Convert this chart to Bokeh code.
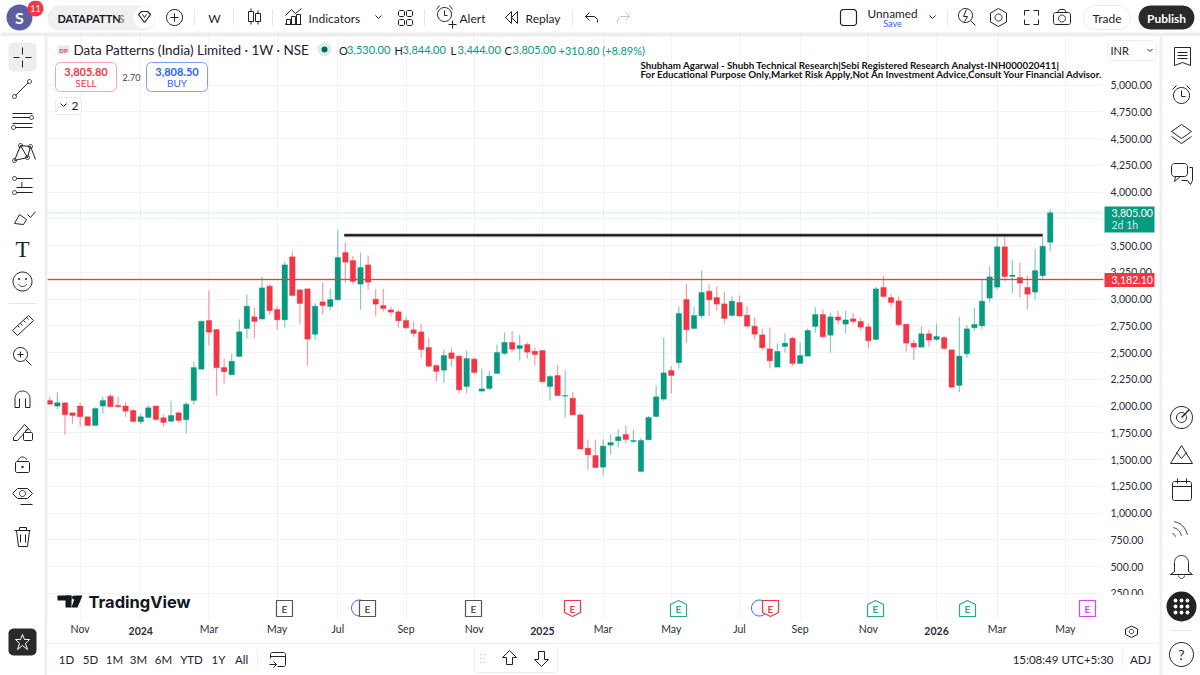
import numpy as np
from bokeh.core.properties import value
from bokeh.embed import file_html
from bokeh.models import (ColumnDataSource, FixedTicker, Grid, LinearAxis,
                          NumeralTickFormatter, Range1d)
from bokeh.plotting import figure
from bokeh.resources import INLINE

# weekly candles
opens = [2052, 1999, 2030, 1936, 1999, 1899, 1818, 1999, 2092, 2005, 1999, 1958, 1852, 1893, 1999, 1890, 1858, 1936, 1871, 2052,
         2344, 2799, 2715, 2360, 2291, 2463, 2724, 2833, 2812, 3120, 2902, 2805, 3394, 3086, 3095, 2671, 2974, 2930, 2992, 3435,
         3360, 3139, 3319, 2998, 2939, 2899, 2880, 2799, 2712, 2693, 2547, 2379, 2335, 2497, 2466, 2182, 2438, 2139, 2164, 2304,
         2491, 2594, 2537, 2575, 2512, 2519, 2182, 2285, 2092, 2073, 1917, 1606, 1537, 1428, 1634, 1675, 1734, 1668, 1388, 1684,
         1902, 2064, 2332, 2404, 2995, 2724, 2843, 3073, 3014, 2955, 2846, 2967, 2849, 2746, 2665, 2534, 2363, 2556, 2634, 2397,
         2466, 2743, 2855, 2662, 2833, 2765, 2815, 2790, 2740, 2622, 3108, 3014, 2983, 2765, 2587, 2550, 2675, 2622, 2640, 2525,
         2192, 2488, 2731, 2749, 3008, 3111, 3488, 3210, 3201, 3108, 3064, 3217, 3530]
highs = [2089, 2126, 2030, 1936, 2030, 1899, 1986, 2086, 2111, 2089, 2036, 1974, 1927, 2005, 2005, 1918, 2048, 1943, 2036, 2413,
         2793, 3080, 2715, 2441, 2488, 2809, 3039, 2918, 3207, 3136, 2933, 3347, 3444, 3086, 3095, 2961, 3154, 3095, 3650, 3525,
         3403, 3435, 3407, 3089, 3095, 2927, 2902, 2833, 2787, 2768, 2637, 2388, 2525, 2547, 2475, 2516, 2453, 2347, 2329, 2572,
         2687, 2699, 2665, 2594, 2544, 2519, 2291, 2385, 2332, 2132, 1933, 1687, 1687, 1687, 1734, 1780, 1818, 1777, 1703, 1908,
         2192, 2640, 2372, 2933, 3139, 2930, 3266, 3139, 3117, 3067, 3023, 3033, 2933, 2827, 2724, 2734, 2584, 2678, 2647, 2594,
         2724, 2924, 2899, 2871, 2890, 2890, 2865, 2827, 2771, 3114, 3217, 3048, 3020, 2765, 2618, 2746, 2715, 2771, 2656, 2525,
         2834, 2756, 2921, 3179, 3307, 3609, 3600, 3369, 3341, 3220, 3469, 3587, 3844]
lows = [2014, 1971, 1731, 1834, 1809, 1818, 1818, 1927, 1992, 1983, 1899, 1855, 1830, 1893, 1865, 1806, 1849, 1843, 1746, 2014,
        2344, 2566, 2098, 2210, 2291, 2463, 2631, 2634, 2812, 2855, 2712, 2734, 3024, 2762, 2379, 2622, 2855, 2893, 2986, 3151,
        3135, 2899, 3089, 2836, 2883, 2836, 2734, 2718, 2646, 2453, 2360, 2232, 2217, 2369, 2120, 2120, 2298, 2139, 2148, 2304,
        2478, 2503, 2422, 2447, 2379, 2226, 2051, 2095, 1890, 1914, 1597, 1404, 1416, 1351, 1550, 1612, 1653, 1656, 1388, 1684,
        1896, 2045, 2117, 2351, 2590, 2724, 2821, 2840, 2893, 2771, 2837, 2840, 2734, 2625, 2522, 2351, 2363, 2500, 2372, 2397,
        2466, 2684, 2634, 2500, 2762, 2681, 2762, 2703, 2544, 2612, 3011, 2924, 2743, 2510, 2432, 2550, 2556, 2609, 2522, 2164,
        2129, 2450, 2703, 2718, 2967, 3083, 3167, 3055, 3011, 2902, 2998, 3185, 3444]
closes = [2017, 2030, 1918, 1911, 1899, 1818, 1977, 2052, 1992, 1992, 1952, 1855, 1899, 1983, 1874, 1846, 1911, 1865, 2017, 2360,
          2793, 2690, 2357, 2320, 2419, 2693, 2933, 2790, 3104, 2890, 2805, 3319, 3033, 2958, 2625, 2933, 2939, 2995, 3388, 3344,
          3164, 3294, 3157, 2952, 2911, 2877, 2796, 2731, 2678, 2528, 2372, 2323, 2472, 2444, 2151, 2444, 2313, 2160, 2279, 2500,
          2594, 2531, 2565, 2503, 2481, 2226, 2276, 2098, 2098, 1917, 1597, 1544, 1425, 1625, 1659, 1712, 1687, 1678, 1678, 1893,
          2086, 2310, 2285, 2865, 2712, 2846, 3061, 2992, 2952, 2818, 2980, 2840, 2746, 2671, 2544, 2422, 2510, 2587, 2397, 2472,
          2706, 2855, 2647, 2833, 2802, 2805, 2790, 2737, 2609, 3095, 3023, 2967, 2759, 2587, 2550, 2675, 2615, 2650, 2538, 2176,
          2466, 2721, 2762, 2980, 3207, 3488, 3210, 3223, 3148, 3045, 3266, 3494, 3805]

price_ticks = [1000, 1250, 1500, 1750, 2000, 2250, 2500, 2750, 3000, 3250, 3500, 3750, 4000, 4250, 4500, 4750, 5000]
price_ticks_short = [250, 500, 750]
month_ticks = {4: "Nov", 21: "Mar", 30: "May", 38: "Jul", 47: "Sep", 56: "Nov", 73: "Mar", 82: "May", 91: "Jul", 99: "Sep",
               108: "Nov", 125: "Mar", 134: "May"}
year_ticks = {12: "2024", 65: "2025", 117: "2026"}

last_close = 3805.0
support_level = 3182.10
resistance_level = 3596
resistance_from, resistance_to = 38.85, 131

GREEN = "#089981"
RED = "#f23645"
INK = "#1e222d"
FONT = "Lato"

# chart scales are anchored so the chart sits where it does in the screenshot
def idx_at(px):
    return (px - 49.3) / 7.579

def price_at(py):
    return 5000 - (py - 84.5) / 0.107

W, H = 1200, 675
p = figure(width=W, height=H, output_backend="svg", toolbar_location=None, min_border=0,
           x_range=Range1d(idx_at(0), idx_at(W)), y_range=Range1d(price_at(H), price_at(0)),
           x_axis_location=None, y_axis_location=None, outline_line_color=None)
p.grid.visible = False
# second pair of ranges in page pixels, for everything that is not chart data
p.extra_x_ranges["px"] = Range1d(0, W)
p.extra_y_ranges["py"] = Range1d(H, 0)
PX = dict(x_range_name="px", y_range_name="py")

all_x = sorted(list(month_ticks) + list(year_ticks))
p.add_layout(Grid(dimension=0, ticker=FixedTicker(ticks=all_x), grid_line_color="#f3f3f4"))
p.add_layout(Grid(dimension=1, ticker=FixedTicker(ticks=price_ticks_short + price_ticks), grid_line_color="#f3f3f4"))

# candles
i = list(range(len(opens)))
up = [c >= o for o, c in zip(opens, closes)]
src = ColumnDataSource(dict(
    i=i, high=highs, low=lows,
    top=[max(o, c) for o, c in zip(opens, closes)],
    bottom=[min(o, c) for o, c in zip(opens, closes)],
    color=[GREEN if u else RED for u in up]))
p.segment("i", "high", "i", "low", source=src, line_color="color", line_width=1.2, line_alpha=0.5)
p.vbar("i", 0.72, "bottom", "top", source=src, fill_color="color", line_color="color", line_alpha=0.35, line_width=1)

x_l, x_r = idx_at(47), idx_at(1103)
p.line([x_l, x_r], [last_close, last_close], line_color=GREEN, line_alpha=0.55, line_dash=[1, 2], line_width=1)
p.line([x_l, x_r], [support_level, support_level], line_color=RED, line_alpha=0.22, line_width=2.5)
p.line([x_l, x_r], [support_level, support_level], line_color=RED, line_width=1)
p.line([resistance_from, resistance_to], [resistance_level, resistance_level], line_color="#b9b9b9", line_width=4)
p.line([resistance_from, resistance_to], [resistance_level, resistance_level], line_color="#111111", line_width=2)

# screen furniture
def panel(x0, y0, x1, y1, color, level="glyph"):
    p.quad(left=[x0], right=[x1], top=[y0], bottom=[y1], fill_color=color, line_color=None, level=level, **PX)

panel(0, 0, 1200, 32, "white")
panel(0, 32, 1200, 36, "#eeeeee")
panel(0, 36, 44, 700, "white")
panel(44, 36, 47, 700, "#eeeeee")
panel(1103, 36, 1159, 642, "white")
panel(47, 619, 1159, 700, "white")
panel(1159, 36, 1162, 700, "#eeeeee")
panel(1162, 36, 1200, 700, "white")
panel(47, 642.5, 1159, 643.2, "#efefef")

def rbox(x0, y0, x1, y1, r=4, fill="white", line=None, w=1, level="glyph"):
    xs, ys = [], []
    for cx, cy, a in [(x1 - r, y0 + r, -90), (x1 - r, y1 - r, 0), (x0 + r, y1 - r, 90), (x0 + r, y0 + r, 180)]:
        t = np.radians(np.linspace(a, a + 90, 7))
        xs += list(cx + r * np.cos(t))
        ys += list(cy + r * np.sin(t))
    p.patch(xs, ys, fill_color=fill, line_color=line, line_width=w, level=level, **PX)

def text(x, y, s, size=12, color=INK, align="left", style="normal", font=FONT, alpha=1.0, level="glyph"):
    p.text([x], [y], text=[s], text_font_size=f"{size}px", text_color=color, text_align=align, text_baseline="middle",
           text_font_style=style, text_font=value(font), text_alpha=alpha, level=level, **PX)

def line(*pts, color=INK, w=1.0):
    p.line([a for a, b in pts], [b for a, b in pts], line_color=color, line_width=w, **PX)

def arc(cx, cy, r, a0=0, a1=360, color=INK, w=1.0):
    t = np.radians(np.linspace(a0, a1, 32))
    p.line(list(cx + r * np.cos(t)), list(cy + r * np.sin(t)), line_color=color, line_width=w, **PX)

def dot(x, y, r, color=INK):
    p.circle([x], [y], radius=r, fill_color=color, line_color=None, **PX)

# top bar
dot(19, 17, 13, "#5b5f9f")
text(19, 17, "S", 16, "white", "center", "bold")
dot(35, 8, 8, RED)
text(35, 8, "11", 9, "white", "center")
rbox(47, 5, 155, 30, 12, "#f0f0f0")
text(57, 17.5, "DATAPATTN", 11, "#131722", style="bold")
text(118, 17.5, "S", 11, "#888888", style="bold")
dot(144, 17, 11, "white")
line((138, 14), (141, 11), (147, 11), (150, 14), (144, 22), (138, 14), w=1.2)
line((142, 14), (144, 17), (146, 14))
arc(174, 17, 8)
line((170, 17), (178, 17))
line((174, 13), (174, 21))
for sx in [194, 233, 272, 424, 572, 947]:
    line((sx, 9), (sx, 25), color="#e6e6e6")
text(214, 17.5, "W", 12, align="center")
for bx, by0, by1 in [(248, 11, 21), (255, 13, 21)]:
    line((bx, by0), (bx + 5, by0), (bx + 5, by1), (bx, by1), (bx, by0))
    line((bx + 2.5, by0 - 3), (bx + 2.5, by0))
    line((bx + 2.5, by1), (bx + 2.5, by1 + 3))
for bx, bt in [(286, 19), (291, 16), (296, 14)]:
    line((bx, 24), (bx, bt), (bx + 4, bt), (bx + 4, 24))
line((285, 23), (285, 24), (301, 24))
line((285, 15), (291, 9), (295, 13), (301, 8))
text(308, 17.5, "Indicators", 12)
line((375, 15), (378, 18), (381, 15))
for qx in (398, 406):
    for qy in (10, 19):
        rbox(qx, qy, qx + 6, qy + 6, 1.5, "white", INK)
arc(444, 14, 7)
line((444, 10), (444, 15), (447, 15))
line((436, 9), (439, 5))
line((452, 9), (449, 5))
line((452, 20), (452, 28))
line((448, 24), (456, 24))
text(459, 17.5, "Alert", 12)
line((511, 11), (505, 17), (511, 23), (511, 11))
line((517, 11), (511, 17), (517, 23), (517, 11))
text(525, 17.5, "Replay", 12)
line((589, 12), (585, 16), (589, 20))
line((585, 16), (594, 16), (597, 19), (597, 22))
line((625, 12), (629, 16), (625, 20), color="#c4c4c4")
line((629, 16), (620, 16), (617, 19), (617, 22), color="#c4c4c4")

rbox(840, 9, 856, 25, 3, "white", INK, 1.2)
text(892, 13, "Unnamed", 11.8, align="center")
text(892, 23, "Save", 9, "#2962ff", "center")
line((929, 15), (932, 18), (935, 15))
arc(965, 15, 7)
line((970, 20), (975, 25))
line((966, 9), (963, 16), (967, 16), (964, 21))
line((998, 8), (1006, 12.5), (1006, 21.5), (998, 26), (990, 21.5), (990, 12.5), (998, 8))
arc(998, 17, 3.5)
for fx, fy, dx, dy in [(1024, 10, 1, 1), (1038, 10, -1, 1), (1024, 24, 1, -1), (1038, 24, -1, -1)]:
    line((fx, fy + dy * 5), (fx, fy), (fx + dx * 5, fy))
rbox(1053, 12, 1070, 24, 2, "white", INK)
arc(1061.5, 18, 3.5)
line((1057, 12), (1059, 9), (1064, 9), (1066, 12))
rbox(1083, 5, 1130, 29, 12, "white", "#ececec")
text(1106.5, 17.5, "Trade", 12, align="center")
rbox(1138, 5, 1194, 29, 12, "#2a2a2a")
text(1166, 17.5, "Publish", 12, "white", "center", "bold")

# legend row
rbox(57, 45, 69, 54, 1.5, "#e8e8e8")
text(63, 49.5, "DP", 6, RED, "center", "bold")
text(73, 49, "Data Patterns (India) Limited · 1W · NSE", 13.5)
dot(324, 49, 7, "#d8f0ec")
dot(324, 49, 3, "#056656")
for lx, s, vx, v in [(338.5, "O", 346.5, "3,530.00"), (394, "H", 402, "3,844.00"), (450, "L", 457, "3,444.00"), (504, "C", 512, "3,805.00")]:
    text(lx, 49.5, s, 11)
    text(vx, 49.5, v, 11, GREEN)
text(558, 49.5, "+310.80 (+8.89%)", 11, GREEN)
text(640, 64, "Shubham Agarwal - Shubh Technical Research|Sebi Registered Research Analyst-INH000020411|", 9.75, "#111111", style="bold")
text(640, 73.5, "For Educational Purpose Only,Market Risk Apply,Not An Investment Advice,Consult Your Financial Advisor.", 9.75, "#111111", style="bold")

rbox(55, 62, 116, 91, 5, "white", "#f7a5ad")
text(85.5, 71, "3,805.80", 11, RED, "center", "bold")
text(85.5, 82, "SELL", 10, RED, "center")
text(131, 76.5, "2.70", 9, "#444444", "center")
rbox(146, 62, 207, 91, 5, "white", "#7aa0f5")
text(176.5, 71, "3,808.50", 11, "#2962ff", "center", "bold")
text(176.5, 82, "BUY", 10, "#2962ff", "center")
rbox(55, 97, 81, 114, 3, "white", "#ececec")
line((60, 103), (63, 106), (66, 103))
text(71, 105, "2", 12)
rbox(1107, 40, 1156, 60, 4, "white", "#eeeeee")
text(1110, 49.5, "INR", 11)
line((1147, 48.5), (1149.5, 51), (1152, 48.5))

# left tools
rbox(8, 42, 36, 71, 5, "#eeeeee")
line((13, 57), (19, 57))
line((25, 57), (31, 57))
line((22, 47), (22, 54))
line((22, 60), (22, 67))
line((15, 95), (28, 82))
arc(14, 96, 2)
arc(29, 81, 2)
line((12, 113), (32, 113))
line((12, 117), (29, 117))
line((12, 123), (32, 123))
line((15, 127), (32, 127))
arc(31, 117, 2)
arc(13, 127, 2)
line((14, 160), (20, 145), (27, 157), (30, 146), (35, 159))
line((14, 160), (27, 157))
line((20, 145), (30, 146))
for ax, ay in [(14, 160), (20, 145), (27, 157), (30, 146)]:
    arc(ax, ay, 2)
line((16, 178), (32, 178))
line((16, 187), (32, 187))
line((16, 192), (32, 192))
arc(14, 178, 2)
arc(14, 192, 2)
text(22, 184, "L", 7, align="center", style="bold")
line((14, 223), (19, 214), (26, 219), (23, 224), (14, 223))
line((27, 214), (30, 217), (35, 211))
text(22, 249, "T", 23, align="center", font="Liberation Serif")
arc(22, 281, 9.5)
dot(18.5, 278.5, 1)
dot(25.5, 278.5, 1)
arc(22, 281, 5, 30, 150)
line((8, 303), (36, 303), color="#e6e6e6")
line((12, 330), (28, 315), (33, 320), (17, 335), (12, 330))
for tx, ty in [(17, 325), (20, 323), (23, 320), (26, 317)]:
    line((tx, ty), (tx + 2, ty + 2))
arc(20, 354, 7)
line((25, 359), (31, 365))
line((17, 354), (23, 354))
line((20, 351), (20, 357))
arc(22, 398, 7.5, 180, 360)
line((14.5, 398), (14.5, 407), (19, 407), (19, 398))
line((29.5, 398), (29.5, 407), (25, 407), (25, 398))
line((13, 437), (24, 424), (28, 428), (17, 440), (13, 440), (13, 437))
rbox(23, 432, 32, 440, 1, "white", INK)
arc(27.5, 431, 2.5, 180, 360)
rbox(15, 461, 29, 472, 1.5, "white", INK)
arc(22, 461, 4.5, 180, 340)
dot(22, 466.5, 1.2)
line((12, 493), (17, 488), (27, 488), (32, 493), (27, 498), (17, 498), (12, 493))
arc(22, 493, 3)
line((20, 504), (32, 504))
line((14, 530), (30, 530))
line((16, 530), (18, 546), (27, 546), (29, 530))
line((19, 530), (19, 527), (26, 527), (26, 530))
line((20, 534), (20, 542))
line((25, 534), (25, 542))
rbox(8, 628, 36, 655, 5, "#2a2a2a")
line((22, 634), (24, 639), (29, 639), (25, 643), (27, 649), (22, 645), (17, 649), (19, 643), (15, 639), (20, 639), (22, 634), color="white")

# right tools
line((1174, 47), (1190, 47), (1190, 65), (1182, 62), (1174, 65), (1174, 47))
for ly in (52, 55, 58):
    line((1177, ly), (1187, ly))
arc(1181, 95, 8)
line((1181, 90), (1181, 96), (1185, 96))
line((1172, 89), (1176, 85))
line((1190, 89), (1186, 85))
line((1181, 124), (1191, 131), (1181, 138), (1171, 131), (1181, 124))
line((1171, 136), (1181, 143), (1191, 136))
rbox(1171, 163, 1187, 176, 3, "white", INK)
line((1175, 176), (1174, 181), (1180, 176))
line((1189, 167), (1192, 167), (1192, 180), (1190, 184), (1187, 180), (1181, 180))
arc(1181, 417, 11)
arc(1181, 417, 5)
line((1181, 417), (1189, 409), w=1.5)
line((1170, 463), (1181, 445), (1192, 463), (1170, 463))
line((1176, 452), (1181, 458), (1186, 452))
rbox(1172, 481, 1191, 500, 2, "white", INK)
line((1172, 486), (1191, 486))
line((1177, 478), (1177, 483))
line((1186, 478), (1186, 483))
arc(1171, 537, 16, -80, -10)
arc(1171, 537, 10, -80, -10)
arc(1171, 537, 4, -80, -10)
arc(1181, 562, 7, 180, 360)
line((1174, 562), (1174, 571), (1170, 574), (1192, 574), (1188, 571), (1188, 562))
arc(1181, 575, 3, 0, 180)
dot(1181, 606, 15, "#222222")
for gx in (1175, 1181, 1187):
    for gy in (600, 606, 612):
        dot(gx, gy, 1.9, "white")
line((1170, 630), (1192, 630), color="#e6e6e6")
arc(1181, 654, 12)
text(1181, 654, "?", 14, align="center")

# axis tags
p.quad(left=[1104], right=[1154], top=[206], bottom=[232], fill_color=GREEN, line_color=None, level="annotation", **PX)
text(1111, 212, "3,805.00", 10.5, "white", level="annotation")
text(1111, 224.5, "2d 1h", 10.5, "#cfe9e4", level="annotation")
p.quad(left=[1104], right=[1154], top=[272.5], bottom=[286.5], fill_color=RED, line_color=None, level="annotation", **PX)
text(1111, 279.5, "3,182.10", 10.5, "white", level="annotation")
panel(1103, 594.5, 1159, 619, "white", level="annotation")

# watermark
p.quad(left=[57, 65], right=[71, 71], top=[595, 595], bottom=[600, 607], fill_color="#131722", line_color=None, **PX)
p.patch([75, 82, 77, 71], [595, 595, 607, 607], fill_color="#131722", line_color=None, **PX)
dot(73.5, 597, 2, "#131722")
text(88, 601, "TradingView", 16.5, "#131722", style="bold", font="Inter")

# event markers
def marker(x, color, kind="flat"):
    t, b = 600, 616
    if kind == "up":
        xs, ys = [x - 8, x, x + 8, x + 8, x - 8], [604, 600, 604, 616, 616]
    elif kind == "down":
        xs, ys = [x - 8, x + 8, x + 8, x, x - 8], [600, 600, 612, 616, 612]
    else:
        xs, ys = [x - 8, x + 8, x + 8, x - 8], [t, t, b, b]
    p.patch(xs, ys, fill_color="white", line_color=color, line_width=1.2, **PX)
    text(x, 608, "E", 10, color, "center", "bold")

arc(359, 607.5, 8, color="#2962ff")
arc(759, 607.5, 8, color="#2962ff")
for mx in (284, 367, 473):
    marker(mx, "#555555")
marker(572, RED, "down")
marker(678, "#22ab94", "up")
marker(770, RED, "down")
marker(875, "#22ab94", "up")
marker(967, "#22ab94", "up")
marker(1087, "#e040fb")
rbox(1113, 598, 1130, 616, 4, "white", "#f0f0f0")
text(1121.5, 607, "A", 11, align="center", style="bold")
rbox(1133, 598, 1150, 616, 4, "white", "#f0f0f0")
text(1141.5, 607, "L", 11, align="center", style="bold")
line((1131, 625.5), (1137, 628.5), (1137, 634), (1131, 637), (1125, 634), (1125, 628.5), (1131, 625.5))
arc(1131, 631, 2.2)

# bottom bar
for bx, s in [(66, "1D"), (90, "5D"), (114, "1M"), (138, "3M"), (163, "6M"), (191, "YTD"), (218, "1Y"), (241, "All")]:
    text(bx, 659, s, 11.5, align="center")
line((257, 650), (257, 668), color="#eeeeee")
rbox(270, 652, 285, 666, 2, "white", INK)
panel(268, 658, 277, 668, "white")
line((269, 664), (276, 664))
line((273, 661), (276, 664), (273, 667))
line((270, 656), (285, 656))
rbox(474, 643, 557, 672, 4, "white", "#ececec")
for dx in (480.5, 484):
    for dy in (654, 658, 662):
        dot(dx, dy, 0.8, "#c8c8c8")
line((509, 650), (516, 657), (512, 657), (512, 664), (506, 664), (506, 657), (502, 657), (509, 650))
line((541, 666), (548, 659), (544, 659), (544, 651), (538, 651), (538, 659), (534, 659), (541, 666))
text(1113, 659, "15:08:49 UTC+5:30", 11.5, align="right")
line((1122, 650), (1122, 668), color="#eeeeee")
text(1140, 659, "ADJ", 11.5, align="center")

# real axes, pinned at their screen positions
# axis labels come out right aligned, so the three short ones get their own axis to start at the same x
price_axis = LinearAxis(ticker=FixedTicker(ticks=price_ticks), formatter=NumeralTickFormatter(format="0,0.00"),
                        fixed_location=idx_at(1096))
short_axis = LinearAxis(ticker=FixedTicker(ticks=price_ticks_short), formatter=NumeralTickFormatter(format="0,0.00"),
                        fixed_location=idx_at(1096))
month_axis = LinearAxis(ticker=FixedTicker(ticks=list(month_ticks)), major_label_overrides=month_ticks,
                        fixed_location=price_at(611))
year_axis = LinearAxis(ticker=FixedTicker(ticks=list(year_ticks)), major_label_overrides=year_ticks,
                       fixed_location=price_at(615), major_label_text_font_style="bold")
for ax in (price_axis, short_axis, month_axis, year_axis):
    ax.axis_line_color = None
    ax.major_tick_line_color = None
    ax.minor_tick_line_color = None
    ax.major_label_text_font = FONT
    ax.major_label_text_font_size = "10.5px"
    ax.major_label_text_color = "#2a2e39"
    ax.major_label_standoff = 5
price_axis.major_label_standoff = 8
short_axis.major_label_standoff = 8
p.add_layout(price_axis, "right")
p.add_layout(short_axis, "right")
p.add_layout(month_axis, "below")
p.add_layout(year_axis, "below")

open("out.html", "w").write(file_html(p, INLINE))
